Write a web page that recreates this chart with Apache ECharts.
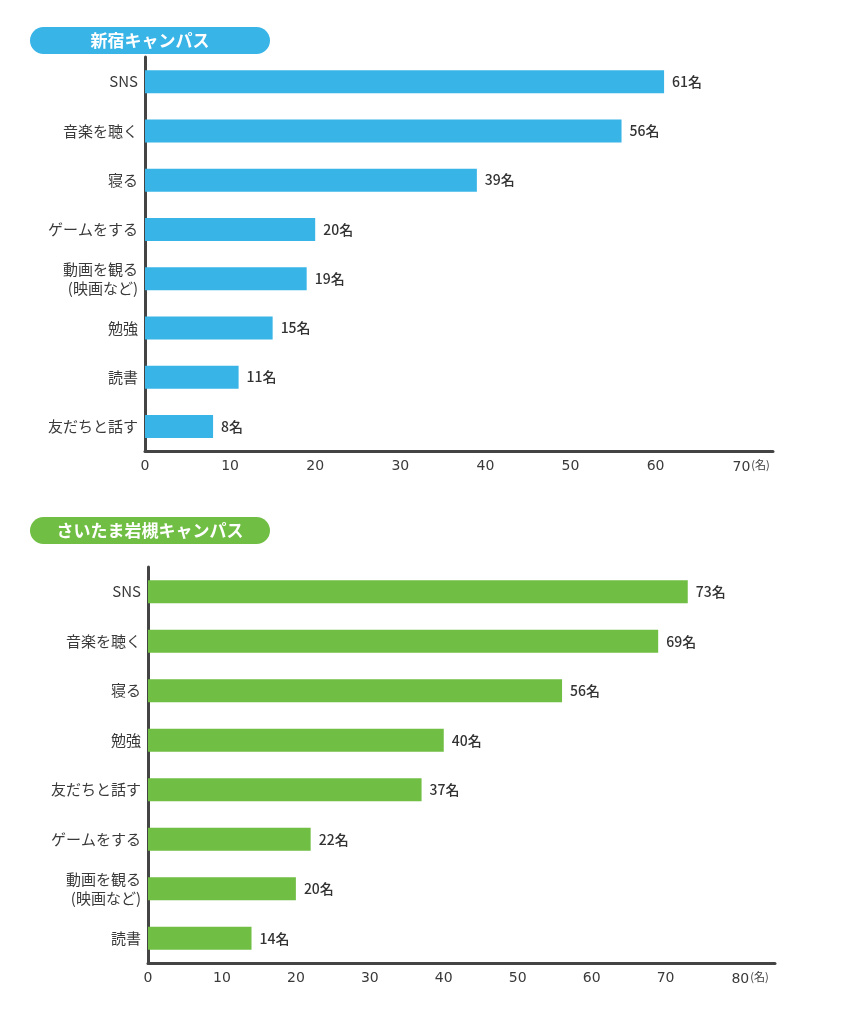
<!DOCTYPE html>
<html><head><meta charset="utf-8">
<script src="https://cdn.jsdelivr.net/npm/echarts@6/dist/echarts.min.js"></script>
<style>html,body{margin:0;padding:0;background:#fff}#c{width:858px;height:1012px}</style>
</head><body><div id="c"></div>
<script>
const shinjukuTitle = '新宿キャンパス';
const shinjukuCats = ['SNS','音楽を聴く','寝る','ゲームをする','動画を観る\n(映画など)','勉強','読書','友だちと話す'];
const shinjukuVals = [61,56,39,20,19,15,11,8];
const iwatsukiTitle = 'さいたま岩槻キャンパス';
const iwatsukiCats = ['SNS','音楽を聴く','寝る','勉強','友だちと話す','ゲームをする','動画を観る\n(映画など)','読書'];
const iwatsukiVals = [73,69,56,40,37,22,20,14];
const shinjukuTicks = [0,10,20,30,40,50,60,70];
const iwatsukiTicks = [0,10,20,30,40,50,60,70,80];
const unitLabel = '(名)';

const FONT = '"Noto Sans CJK JP", "Noto Sans", sans-serif';
const NUMFONT = '"DejaVu Sans", sans-serif';
const AX = '#444';
const BLUE = '#38b4e7';
const GREEN = '#70be44';

function xAxisFor(grid, ticks, max){
  const last = ticks[ticks.length-1];
  return {
    type:'value', gridIndex:grid, min:0, max:max, interval:10,
    axisLine:{show:true, lineStyle:{color:AX, width:3}},
    axisTick:{show:false}, splitLine:{show:false},
    axisLabel:{
      color:'#3a3a3a', fontSize:14, fontFamily:NUMFONT, margin:8, showMaxLabel:false,
      formatter:function(v){
        if (ticks.indexOf(v) < 0) return '';
        if (v === last) return '{sp| }' + v + '{u|' + unitLabel + '}';
        return String(v);
      },
      rich:{ sp:{width:21, fontSize:11}, u:{fontSize:11, color:'#3a3a3a', fontFamily:FONT, verticalAlign:'top', padding:[0,0,5,1]} }
    }
  };
}
function yAxisFor(grid, cats){
  return {
    type:'category', gridIndex:grid, data:cats, inverse:true,
    axisLine:{show:true, lineStyle:{color:AX, width:3}},
    axisTick:{show:false},
    axisLabel:{color:'#3a3a3a', fontSize:15, fontFamily:FONT, margin:7, lineHeight:19}
  };
}
function seriesFor(idx, vals, color){
  return {
    type:'bar', xAxisIndex:idx, yAxisIndex:idx, data:vals, barWidth:23,
    itemStyle:{color:color},
    label:{show:true, position:'right', distance:8, formatter:'{c}名', color:'#333', fontSize:14, fontFamily:FONT, fontWeight:500},
    silent:true, animation:false
  };
}
function pill(y, text, color){
  return {
    type:'group', left:30, top:y,
    children:[
      {type:'rect', shape:{x:0,y:0,width:240,height:27,r:13.5}, style:{fill:color}},
      {type:'text', x:120, y:13.5, style:{text:text, fill:'#fff', font:'bold 17px ' + FONT, textAlign:'center', textVerticalAlign:'middle'}}
    ]
  };
}

const chart = echarts.init(document.getElementById('c'));
chart.setOption({
  animation:false,
  grid:[
    {left:145, top:57, width:628, height:394},
    {left:148, top:567, width:627, height:396}
  ],
  xAxis:[ xAxisFor(0, shinjukuTicks, 73.8), xAxisFor(1, iwatsukiTicks, 84.8) ],
  yAxis:[ yAxisFor(0, shinjukuCats), yAxisFor(1, iwatsukiCats) ],
  series:[ seriesFor(0, shinjukuVals, BLUE), seriesFor(1, iwatsukiVals, GREEN) ],
  graphic:[ pill(27, shinjukuTitle, BLUE), pill(517, iwatsukiTitle, GREEN) ]
});
</script>
</body></html>
